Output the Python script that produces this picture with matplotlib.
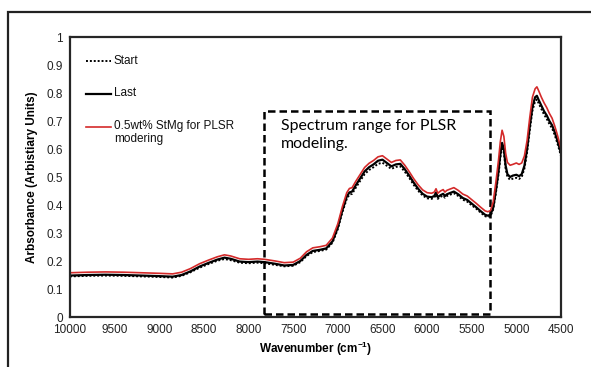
import matplotlib
matplotlib.use("Agg")
import matplotlib.pyplot as plt
from matplotlib.patches import Rectangle
from matplotlib.lines import Line2D

wavenumber = [10000, 9800, 9600, 9400, 9200, 9000, 8850, 8750, 8650, 8550, 8450, 8350, 8270, 8200,
              8100, 8000, 7900, 7820, 7700, 7600, 7500, 7420, 7350, 7280, 7200, 7130, 7060, 7000,
              6950, 6900, 6870, 6840, 6800, 6750, 6700, 6650, 6600, 6550, 6500, 6450, 6400, 6350,
              6300, 6250, 6200, 6150, 6100, 6050, 6000, 5950, 5920, 5900, 5880, 5850, 5820, 5800,
              5780, 5750, 5700, 5650, 5600, 5550, 5500, 5450, 5400, 5350, 5320, 5290, 5260, 5230,
              5200, 5180, 5160, 5140, 5120, 5100, 5070, 5040, 5000, 4970, 4940, 4910, 4880, 4850,
              4820, 4790, 4770, 4750, 4720, 4690, 4660, 4630, 4600, 4570, 4540, 4500]

last = [0.148, 0.150, 0.151, 0.150, 0.148, 0.146, 0.144, 0.150, 0.163, 0.180, 0.193, 0.205, 0.212, 0.208,
        0.198, 0.196, 0.198, 0.196, 0.190, 0.184, 0.186, 0.200, 0.222, 0.236, 0.240, 0.245, 0.270, 0.320,
        0.380, 0.430, 0.445, 0.448, 0.470, 0.495, 0.520, 0.535, 0.545, 0.558, 0.562, 0.550, 0.538, 0.545,
        0.547, 0.528, 0.505, 0.480, 0.458, 0.440, 0.430, 0.428, 0.432, 0.445, 0.428, 0.435, 0.440, 0.432,
        0.438, 0.442, 0.448, 0.438, 0.425, 0.418, 0.405, 0.392, 0.378, 0.365, 0.362, 0.365, 0.390, 0.450,
        0.520, 0.580, 0.622, 0.600, 0.540, 0.510, 0.500, 0.505, 0.508, 0.503, 0.510, 0.540, 0.600, 0.680,
        0.750, 0.785, 0.790, 0.775, 0.755, 0.735, 0.720, 0.700, 0.685, 0.660, 0.630, 0.585]

start = [0.145, 0.147, 0.148, 0.147, 0.145, 0.143, 0.141, 0.147, 0.160, 0.176, 0.189, 0.201, 0.207, 0.203,
         0.194, 0.192, 0.194, 0.192, 0.186, 0.181, 0.183, 0.196, 0.218, 0.232, 0.236, 0.241, 0.265, 0.314,
         0.373, 0.422, 0.437, 0.440, 0.461, 0.486, 0.510, 0.525, 0.535, 0.547, 0.551, 0.540, 0.529, 0.536,
         0.538, 0.519, 0.497, 0.472, 0.451, 0.434, 0.424, 0.422, 0.426, 0.438, 0.422, 0.429, 0.434, 0.426,
         0.432, 0.436, 0.442, 0.432, 0.419, 0.412, 0.399, 0.387, 0.373, 0.360, 0.357, 0.360, 0.384, 0.442,
         0.510, 0.568, 0.608, 0.588, 0.530, 0.500, 0.490, 0.494, 0.497, 0.493, 0.500, 0.530, 0.588, 0.667,
         0.737, 0.771, 0.777, 0.763, 0.743, 0.723, 0.708, 0.689, 0.674, 0.650, 0.620, 0.575]

red_sample = [0.158, 0.160, 0.161, 0.160, 0.158, 0.156, 0.154, 0.160, 0.173, 0.190, 0.203, 0.215, 0.222, 0.218,
              0.208, 0.206, 0.208, 0.206, 0.200, 0.194, 0.196, 0.210, 0.233, 0.247, 0.251, 0.256, 0.282, 0.333,
              0.393, 0.444, 0.459, 0.462, 0.484, 0.509, 0.534, 0.549, 0.559, 0.572, 0.576, 0.564, 0.552, 0.559,
              0.561, 0.542, 0.519, 0.494, 0.472, 0.454, 0.444, 0.442, 0.446, 0.458, 0.442, 0.450, 0.455, 0.446,
              0.452, 0.456, 0.462, 0.452, 0.439, 0.432, 0.419, 0.406, 0.392, 0.379, 0.376, 0.380, 0.410, 0.480,
              0.560, 0.625, 0.667, 0.645, 0.585, 0.552, 0.542, 0.545, 0.550, 0.545, 0.550, 0.575, 0.630, 0.712,
              0.785, 0.815, 0.822, 0.808, 0.785, 0.765, 0.748, 0.727, 0.710, 0.682, 0.650, 0.600]

labels = ["Start", "Last", "0.5wt% StMg for PLSR\nmodering"]
xticks = [10000, 9500, 9000, 8500, 8000, 7500, 7000, 6500, 6000, 5500, 5000, 4500]
yticks = [0, 0.1, 0.2, 0.3, 0.4, 0.5, 0.6, 0.7, 0.8, 0.9, 1]
ytick_labels = ["0", "0.1", "0.2", "0.3", "0.4", "0.5", "0.6", "0.7", "0.8", "0.9", "1"]
region = [7830, 5300, 0.01, 0.736]

plt.rcParams['font.family'] = ['Liberation Sans', 'DejaVu Sans']
plt.rcParams['mathtext.fontset'] = 'custom'
plt.rcParams['mathtext.rm'] = 'Liberation Sans:bold'
plt.rcParams['mathtext.default'] = 'rm'

fig = plt.figure(figsize=(5.91, 3.67), dpi=100)
ax = fig.add_axes([70/591, 1-317/367, 491/591, 280/367])

# outer frame
fig.patches.append(Rectangle((8/591, -0.2), 1.2, 1.2 - 12/367, transform=fig.transFigure,
                             fill=False, edgecolor='#222222', linewidth=1.6))

styles = [dict(color='black', linestyle=(0, (1, 1)), linewidth=1.4),
          dict(color='black', linestyle='-', linewidth=1.6),
          dict(color='#d42a2a', linestyle='-', linewidth=1.2)]

for series, st, lab in zip([start, last, red_sample], styles, labels):
    ax.plot(wavenumber, series, label=lab, **st)

ax.add_patch(Rectangle((region[0], region[2]), region[1]-region[0], region[3]-region[2],
                       fill=False, edgecolor='black', linewidth=1.8, linestyle=(0, (3, 1.6))))
ax.text(7640, 0.708, "Spectrum range for PLSR\nmodeling.", family=['Lato', 'DejaVu Sans'],
        fontsize=11.4, va='top', ha='left', linespacing=1.4)

# legend (Excel-style, handle aligned with first label line)
leg_y = [(317-61)/280, (317-94)/280, (317-127)/280]
x0, x1, xt = (86-70)/491, (111-70)/491, (114-70)/491
for yy, st, lab in zip(leg_y, styles, labels):
    ax.add_line(Line2D([x0, x1], [yy, yy], transform=ax.transAxes, **st))
    ax.text(xt, yy + 6.5/280, lab, transform=ax.transAxes, fontsize=8.5, va='top', ha='left',
            linespacing=1.05, color='#111111')

ax.set_xlim(10000, 4500)
ax.set_ylim(0, 1)
ax.set_xticks(xticks)
ax.set_xticklabels([str(t) for t in xticks])
ax.set_yticks(yticks)
ax.set_yticklabels(ytick_labels)
ax.tick_params(length=0, labelsize=8.5, colors='#222222', pad=5)
for s in ax.spines.values():
    s.set_color('#262626')
    s.set_linewidth(1.6)

ax.set_xlabel("Wavenumber (cm$^{-1}$)", fontsize=8.5, fontweight='bold', labelpad=3)
ax.set_ylabel("Arbsorbance (Arbistiary Units)", fontsize=8.5, fontweight='bold', labelpad=6)

fig.savefig("out.png", dpi=100)
